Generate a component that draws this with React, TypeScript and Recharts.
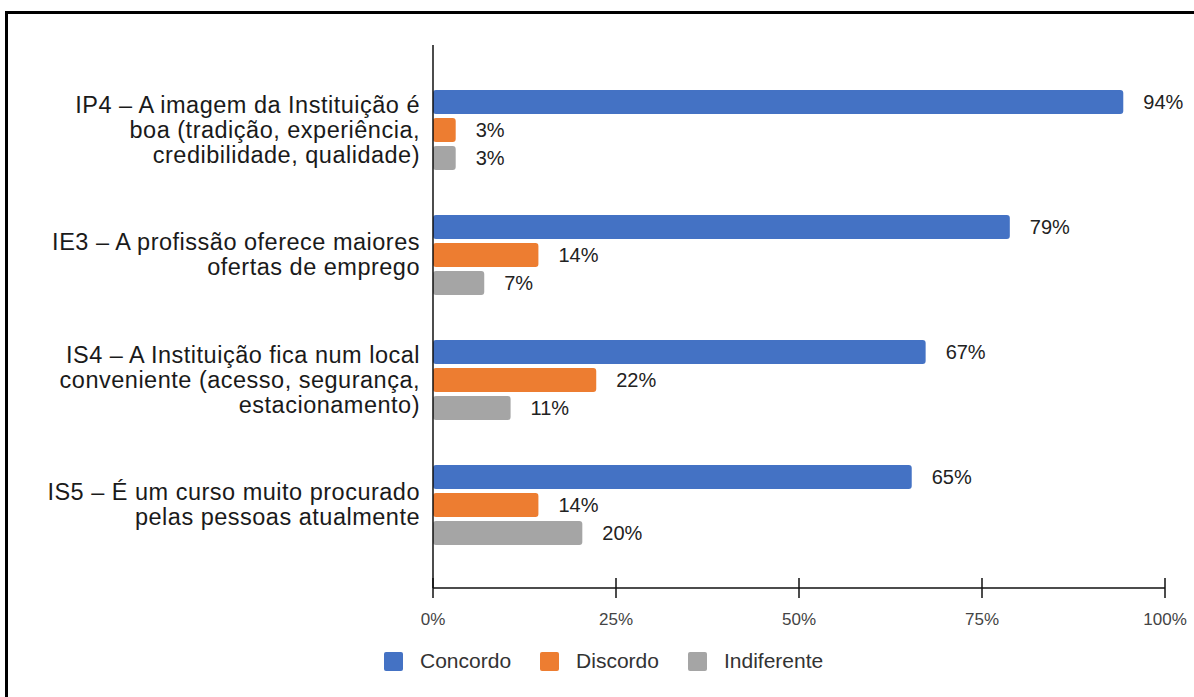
import React from 'react';
import {Bar, BarChart, LabelList, ReferenceLine, XAxis, YAxis} from "recharts";

// category labels, already broken into lines like the original
const categoryLines: string[][] = [
    ['IP4 – A imagem da Instituição é', 'boa (tradição, experiência,', 'credibilidade, qualidade)'],
    ['IE3 – A profissão oferece maiores', 'ofertas de emprego'],
    ['IS4 – A Instituição fica num local', 'conveniente (acesso, segurança,', 'estacionamento)'],
    ['IS5 – É um curso muito procurado', 'pelas pessoas atualmente'],
];
const concordo = [94.3, 78.8, 67.3, 65.4];
const discordo = [3.1, 14.4, 22.3, 14.4];
const indiferente = [3.1, 7.0, 10.6, 20.4];
const xTicks = [0, 25, 50, 75, 100];

const series = [
    {key: 'Concordo', color: '#4472C4'},
    {key: 'Discordo', color: '#ED7D31'},
    {key: 'Indiferente', color: '#A5A5A5'},
];

const data = categoryLines.map((lines, i) => ({
    name: lines.join(' '),
    Concordo: concordo[i],
    Discordo: discordo[i],
    Indiferente: indiferente[i],
}));

const FONT = 'Arial, "Liberation Sans", sans-serif';

const CategoryTick = (props: any) => {
    const {x, y, payload} = props;
    const lines = categoryLines[payload.index] || [payload.value];
    const lh = 25;
    const start = y - ((lines.length - 1) * lh) / 2;
    return (
        <text x={x} y={start} textAnchor="end" fill="#1a1a1a" fontSize={23.5} letterSpacing={0.5} fontFamily={FONT}>
            {lines.map((l: string, i: number) => (
                <tspan key={i} x={x} y={start + i * lh} dy="0.35em">{l}</tspan>
            ))}
        </text>
    );
};

const PercentTick = (props: any) => {
    const {x, y, payload} = props;
    return (
        <g>
            <line x1={x} x2={x} y1={y - 20} y2={y} stroke="#111" strokeWidth={1.5}/>
            <text x={x} y={y + 21} dy="0.35em" textAnchor="middle" fill="#444" fontSize={17} fontFamily={FONT}>
                {payload.value}%
            </text>
        </g>
    );
};

export default function App() {
    return (
        <div style={{position: 'relative', width: 1194, height: 697, overflow: 'hidden', background: '#fff'}}>
            <style>{`body{margin:0}`}</style>
            <div style={{
                position: 'absolute', left: 5, top: 11, width: 1250, height: 750,
                border: '3px solid #000', boxSizing: 'border-box'
            }}/>
            <div style={{position: 'absolute', left: 0, top: 0}}>
                <BarChart
                    width={1194}
                    height={640}
                    data={data}
                    layout="vertical"
                    margin={{top: 45, right: 29, left: 0, bottom: 12}}
                    barSize={24}
                    barGap={4}
                >
                    <XAxis
                        type="number"
                        domain={[0, 100]}
                        ticks={xTicks}
                        height={40}
                        tickLine={false}
                        tickSize={10}
                        tickMargin={0}
                        tick={<PercentTick/>}
                        axisLine={{stroke: '#111', strokeWidth: 1.5}}
                        interval={0}
                    />
                    <YAxis
                        type="category"
                        dataKey="name"
                        width={433}
                        tickLine={false}
                        tickSize={0}
                        tickMargin={13}
                        tick={<CategoryTick/>}
                        axisLine={false}
                        padding={{top: 22, bottom: 21}}
                        interval={0}
                    />
                    {series.map(s => (
                        <Bar key={s.key} dataKey={s.key} fill={s.color} radius={3} isAnimationActive={false}>
                            <LabelList
                                dataKey={s.key}
                                position="right"
                                offset={20}
                                formatter={(v: any) => `${Math.round(Number(v))}%`}
                                style={{fill: '#222', fontSize: 20, fontFamily: FONT}}
                            />
                        </Bar>
                    ))}
                    <ReferenceLine x={0} stroke="#111" strokeWidth={1.5}/>
                </BarChart>
            </div>
            <div style={{
                position: 'absolute', left: 384, top: 649, display: 'flex', alignItems: 'center',
                fontFamily: FONT, fontSize: 21, color: '#333'
            }}>
                {series.map(s => (
                    <div key={s.key} style={{display: 'flex', alignItems: 'center', marginRight: 29}}>
                        <span style={{
                            display: 'inline-block', width: 19, height: 19, background: s.color,
                            borderRadius: 2, marginRight: 17
                        }}/>
                        <span>{s.key}</span>
                    </div>
                ))}
            </div>
        </div>
    );
}
